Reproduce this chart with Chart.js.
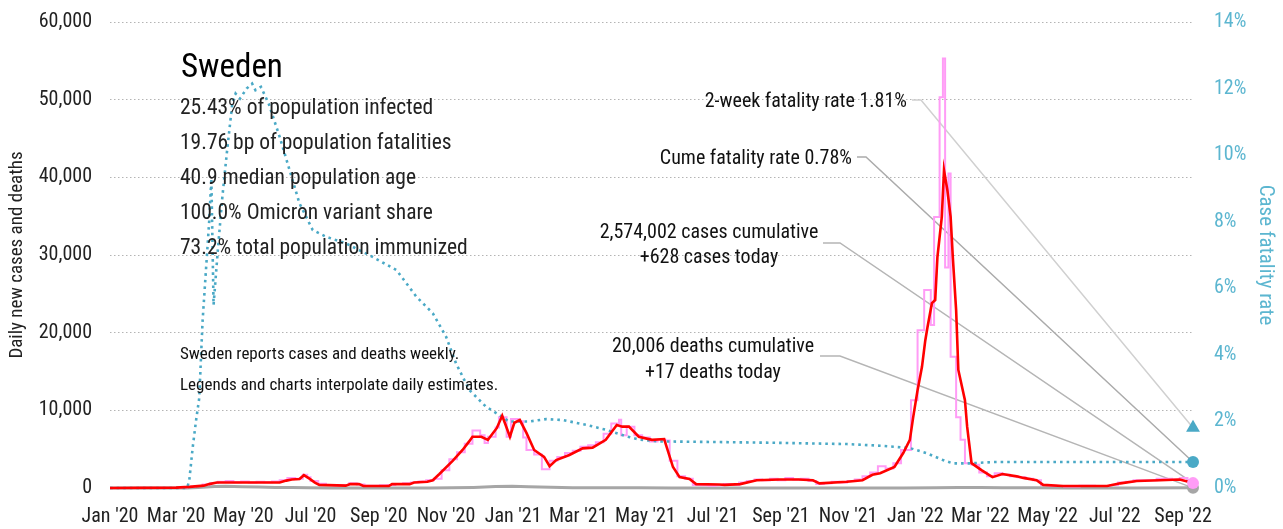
<!DOCTYPE html>
<html>
<head>
<meta charset="utf-8">
<script src="https://cdn.jsdelivr.net/npm/chart.js@4.4.1/dist/chart.umd.min.js"></script>
<style>
  html, body { margin: 0; padding: 0; background: #ffffff; }
  #wrap { width: 1283px; height: 529px; position: relative; }
</style>
</head>
<body>
<div id="wrap"><canvas id="c" width="1283" height="529"></canvas></div>
<script>
const FONT = '"Liberation Sans Narrow", "Roboto Condensed", "DejaVu Sans Condensed", sans-serif';

// x axis: days since 1 Jan 2020, labelled at every other month start
const tickDays = [0, 60, 121, 182, 244, 305, 366, 425, 486, 547, 609, 670, 731, 790, 851, 912, 974];
const tickLabels = ["Jan '20", "Mar '20", "May '20", "Jul '20", "Sep '20", "Nov '20",
  "Jan '21", "Mar '21", "May '21", "Jul '21", "Sep '21", "Nov '21",
  "Jan '22", "Mar '22", "May '22", "Jul '22", "Sep '22"];
const lastDay = 983;

// smoothed daily new cases
const avgDays = [0, 60, 72, 85, 90, 97, 154, 160, 165, 172, 176, 181, 186, 190, 214, 218, 226, 230, 253, 256,
  272, 276, 288, 293, 299, 311, 320, 326, 329, 337, 343, 351, 356, 363, 367, 372, 378, 385, 394, 399,
  405, 417, 429, 438, 450, 460, 465, 471, 480, 492, 503, 511, 517, 526, 532, 553, 558, 572, 587, 608,
  625, 638, 644, 669, 683, 692, 699, 712, 720, 726, 729, 733, 737, 740, 742, 746, 749, 751, 755, 757,
  760, 763, 765, 768, 770, 776, 778, 782, 791, 801, 810, 823, 829, 841, 847, 865, 905, 917, 932, 953,
  971, 983];
const avgCases = [0, 50, 150, 300, 500, 700, 700, 950, 1100, 1150, 1650, 1200, 700, 400, 300, 500, 500, 250, 250, 500,
  500, 700, 800, 1000, 1800, 3500, 4900, 6000, 6600, 6600, 6200, 7700, 9300, 6600, 8400, 8750, 7100, 4900, 4000, 2800,
  3600, 4250, 5100, 5200, 6200, 8100, 7900, 7900, 6600, 6200, 6300, 2700, 1400, 1150, 500, 450, 400, 500, 1000, 1100,
  1100, 1000, 600, 800, 1000, 1700, 1900, 2700, 4500, 6200, 9100, 12600, 15600, 19000, 20700, 23800, 24200, 29700, 34900, 40900,
  38400, 34900, 29700, 22900, 15200, 11300, 7900, 3200, 2300, 1400, 1800, 1500, 1300, 1000, 400, 250, 250, 600, 900, 1000,
  1100, 650];

// daily estimates spread from weekly reports (each value holds until the next day listed)
const rawDays = [0, 63, 70, 77, 84, 91, 98, 105, 112, 119, 126, 133, 140, 147, 154, 161, 168, 175, 179, 182,
  189, 196, 203, 210, 217, 224, 231, 238, 245, 252, 259, 266, 273, 280, 287, 294, 301, 308, 315, 322,
  329, 336, 340, 343, 350, 353, 360, 364, 371, 375, 378, 385, 392, 399, 406, 413, 420, 427, 434, 441,
  448, 455, 462, 464, 469, 476, 483, 490, 497, 504, 508, 515, 522, 529, 536, 543, 550, 557, 564, 571,
  578, 585, 592, 599, 606, 613, 620, 627, 634, 641, 648, 655, 662, 669, 676, 683, 690, 697, 704, 711,
  718, 727, 733, 739, 745, 748, 753, 756, 758, 761, 763, 768, 772, 776, 782, 789, 796, 803, 810, 817,
  824, 831, 838, 845, 852, 859, 866, 880, 894, 908, 915, 922, 929, 943, 950, 964, 971, 978, 983];
const rawCases = [0, 80, 150, 250, 450, 650, 800, 900, 750, 850, 700, 800, 750, 850, 1000, 1300, 1200, 1700, 1400, 900,
  550, 400, 350, 400, 600, 450, 300, 300, 350, 400, 500, 600, 700, 850, 1000, 1200, 2300, 3700, 4600, 5700,
  7400, 6800, 5800, 6600, 7800, 9100, 6600, 8900, 8600, 6500, 4900, 4300, 2400, 3500, 4000, 4500, 4800, 5300, 5500, 5900,
  7000, 8300, 8800, 6800, 7900, 6800, 6500, 6000, 6200, 6100, 3500, 1500, 1200, 400, 350, 300, 350, 500, 400, 700,
  900, 1100, 1000, 1200, 1000, 1300, 1100, 1200, 900, 500, 600, 800, 700, 900, 1100, 1500, 2000, 2800, 2500, 3200,
  4900, 11300, 20300, 25500, 21000, 34900, 50300, 55300, 28400, 40500, 16900, 9100, 6200, 3200, 3000, 2000, 1500, 1900, 1700, 1500,
  1400, 1200, 1000, 400, 300, 250, 200, 300, 250, 400, 700, 800, 1000, 1000, 1200, 1100, 1300, 1000, 628];

// daily deaths
const deathDays = [0, 70, 80, 95, 105, 120, 135, 150, 165, 180, 200, 240, 290, 310, 330, 350, 365, 380, 400, 420,
  450, 480, 510, 540, 600, 680, 720, 750, 770, 790, 810, 840, 870, 930, 983];
const deathValues = [0, 5, 60, 180, 220, 160, 120, 80, 50, 25, 8, 3, 6, 30, 80, 180, 220, 170, 90, 40,
  25, 18, 8, 2, 3, 5, 12, 40, 80, 70, 40, 20, 10, 8, 17];

// case fatality rate, %
const cfrDays = [0, 70, 72, 75, 78, 81, 84, 87, 90, 92, 94, 98, 102, 106, 111, 114, 118, 124, 129, 132,
  137, 144, 154, 163, 172, 184, 196, 214, 235, 260, 278, 293, 305, 314, 323, 326, 341, 353, 362, 381,
  396, 411, 432, 450, 469, 481, 499, 553, 600, 669, 699, 711, 726, 741, 756, 765, 780, 801, 900, 983];
const cfrValues = [0, 0, 0.24, 1.2, 2.0, 2.7, 5.0, 6.5, 8.0, 9.3, 5.5, 7.2, 8.75, 10.05, 11.55, 11.85, 11.7, 12.0, 12.15, 11.95,
  12.05, 11.55, 10.55, 9.55, 8.55, 7.75, 7.55, 7.35, 7.0, 6.55, 5.75, 5.25, 4.55, 3.75, 3.15, 2.95, 2.45, 2.2, 2.0, 2.0,
  2.07, 2.04, 1.9, 1.75, 1.55, 1.45, 1.4, 1.38, 1.36, 1.32, 1.27, 1.24, 1.2, 1.05, 0.84, 0.74, 0.74, 0.78, 0.78, 0.78];

// latest figures
const cfrTwoWeek = 1.81;
const cfrCume = 0.78;
const casesToday = 628;
const deathsToday = 17;
const casesTotal = 2574002;
const deathsTotal = 20006;

const countryName = 'Sweden';
const countryStats = [
  '25.43% of population infected',
  '19.76 bp of population fatalities',
  '40.9 median population age',
  '100.0% Omicron variant share',
  '73.2% total population immunized'
];
const notes = [
  'Sweden reports cases and deaths weekly.',
  'Legends and charts interpolate daily estimates.'
];

const TEAL = '#4aa9c6';
const TEAL_TEXT = '#5cb6d0';
const PINK = '#ff9cf6';
const RED = '#ff0000';
const GREY = '#a6a6a6';

const pts = (xs, ys) => xs.map((d, i) => ({ x: d, y: ys[i] }));

// keep the plot box fixed: no extra room reserved for overhanging tick labels
const noOverhang = (s) => { s.paddingTop = 0; s.paddingBottom = 0; s.paddingLeft = 0; s.paddingRight = 0; };

const overlay = {
  id: 'overlay',
  beforeDatasetsDraw(chart) {
    const { ctx, scales } = chart;
    const ex = scales.x.getPixelForValue(lastDay);
    const leader = (x0, x1, yy, ty, color) => {
      ctx.save();
      ctx.strokeStyle = color;
      ctx.lineWidth = 1.5;
      ctx.beginPath();
      ctx.moveTo(x0, yy);
      ctx.lineTo(x1, yy);
      ctx.lineTo(ex, ty);
      ctx.stroke();
      ctx.restore();
    };
    leader(912, 921, 100, scales.y2.getPixelForValue(cfrTwoWeek), '#d0d0d0');
    leader(857, 866, 157, scales.y2.getPixelForValue(cfrCume), '#ababab');
    leader(823, 840, 243, scales.y.getPixelForValue(casesToday), '#b5b5b5');
    leader(820, 840, 356, scales.y.getPixelForValue(deathsToday), '#b5b5b5');
  },
  afterDatasetsDraw(chart) {
    const { ctx } = chart;
    const text = (t, x, y, size, align, color) => {
      ctx.font = size + 'px ' + FONT;
      ctx.textAlign = align;
      ctx.textBaseline = 'middle';
      ctx.fillStyle = color;
      ctx.fillText(t, x, y);
    };
    ctx.save();
    text(countryName, 181, 69, 33, 'left', '#000');
    countryStats.forEach((s, i) => text(s, 180, 109 + i * 34.8, 21.5, 'left', '#222'));
    text(notes[0], 180, 355, 17, 'left', '#111');
    text(notes[1], 180, 386, 17, 'left', '#111');

    text('2-week fatality rate ' + cfrTwoWeek.toFixed(2) + '%', 907, 102, 20, 'right', '#111');
    text('Cume fatality rate ' + cfrCume.toFixed(2) + '%', 852, 159, 20, 'right', '#111');
    text(casesTotal.toLocaleString('en-US') + ' cases cumulative', 709, 233, 20, 'center', '#111');
    text('+' + casesToday + ' cases today', 709, 258, 20, 'center', '#111');
    text(deathsTotal.toLocaleString('en-US') + ' deaths cumulative', 713, 347, 20, 'center', '#111');
    text('+' + deathsToday + ' deaths today', 713, 373, 20, 'center', '#111');
    ctx.restore();
  }
};

new Chart(document.getElementById('c'), {
  type: 'line',
  data: {
    datasets: [
      { label: 'Cases today', data: [{ x: lastDay, y: casesToday }], yAxisID: 'y', showLine: false,
        pointRadius: 6, pointBackgroundColor: PINK, pointBorderWidth: 0, clip: false, order: 0 },
      { label: 'Deaths today', data: [{ x: lastDay, y: deathsToday }], yAxisID: 'y', showLine: false,
        pointRadius: 6, pointBackgroundColor: GREY, pointBorderWidth: 0, clip: false, order: 0 },
      { label: 'Cume fatality rate', data: [{ x: lastDay, y: cfrCume }], yAxisID: 'y2', showLine: false,
        pointRadius: 6, pointBackgroundColor: TEAL, pointBorderWidth: 0, clip: false, order: 0 },
      { label: '2-week fatality rate', data: [{ x: lastDay, y: cfrTwoWeek }], yAxisID: 'y2', showLine: false,
        pointStyle: 'triangle', pointRadius: 8, pointBackgroundColor: TEAL, pointBorderWidth: 0, clip: false, order: 0 },
      { label: 'Cases (7-day average)', data: pts(avgDays, avgCases), yAxisID: 'y',
        borderColor: RED, borderWidth: 2.6, pointRadius: 0, tension: 0, clip: false, order: 1 },
      { label: 'Case fatality rate', data: pts(cfrDays, cfrValues), yAxisID: 'y2',
        borderColor: TEAL, borderWidth: 2.6, borderDash: [2.6, 4], pointRadius: 0, tension: 0, clip: false, order: 2 },
      { label: 'Cases (daily)', data: pts(rawDays, rawCases), yAxisID: 'y', stepped: true,
        borderColor: PINK, borderWidth: 2, pointRadius: 0, clip: false, order: 3 },
      { label: 'Deaths', data: pts(deathDays, deathValues), yAxisID: 'y',
        borderColor: GREY, borderWidth: 3, pointRadius: 0, tension: 0, clip: false, order: 4 }
    ]
  },
  options: {
    responsive: false,
    animation: false,
    devicePixelRatio: 1,
    layout: { padding: { top: 22, left: 0, right: 0, bottom: 0 } },
    plugins: { legend: { display: false }, tooltip: { enabled: false } },
    scales: {
      x: {
        type: 'linear', min: 0, max: lastDay,
        afterBuildTicks: (s) => { s.ticks = tickDays.map(v => ({ value: v })); },
        afterFit: (s) => { s.height = 41; noOverhang(s); },
        ticks: {
          autoSkip: false, maxRotation: 0, padding: 17, color: '#222',
          font: { family: FONT, size: 20 },
          callback: (v) => tickLabels[tickDays.indexOf(v)]
        },
        grid: { display: false, drawTicks: false },
        border: { display: false }
      },
      y: {
        position: 'left', min: 0, max: 60000,
        afterFit: (s) => { s.width = 110; noOverhang(s); },
        ticks: {
          stepSize: 10000, padding: 18, color: '#222',
          font: { family: FONT, size: 20 },
          callback: (v) => v.toLocaleString('en-US')
        },
        title: { display: true, text: 'Daily new cases and deaths', color: '#222',
          font: { family: FONT, size: 19 }, padding: { top: 6, bottom: 0 } },
        grid: {
          drawTicks: false, lineWidth: 1,
          color: (c) => c.tick && c.tick.value === 0 ? 'rgba(0,0,0,0)' : '#b4b4b4'
        },
        border: { display: false, dash: [1.5, 2.5] }
      },
      y2: {
        position: 'right', min: 0, max: 14,
        afterFit: (s) => { s.width = 90; noOverhang(s); },
        ticks: {
          stepSize: 2, padding: 21, color: TEAL_TEXT,
          font: { family: FONT, size: 20 },
          callback: (v) => v + '%'
        },
        title: { display: true, text: 'Case fatality rate', color: TEAL_TEXT,
          font: { family: FONT, size: 21 }, padding: { top: 5, bottom: 0 } },
        grid: { display: false, drawTicks: false },
        border: { display: false }
      }
    }
  },
  plugins: [overlay]
});
</script>
</body>
</html>
